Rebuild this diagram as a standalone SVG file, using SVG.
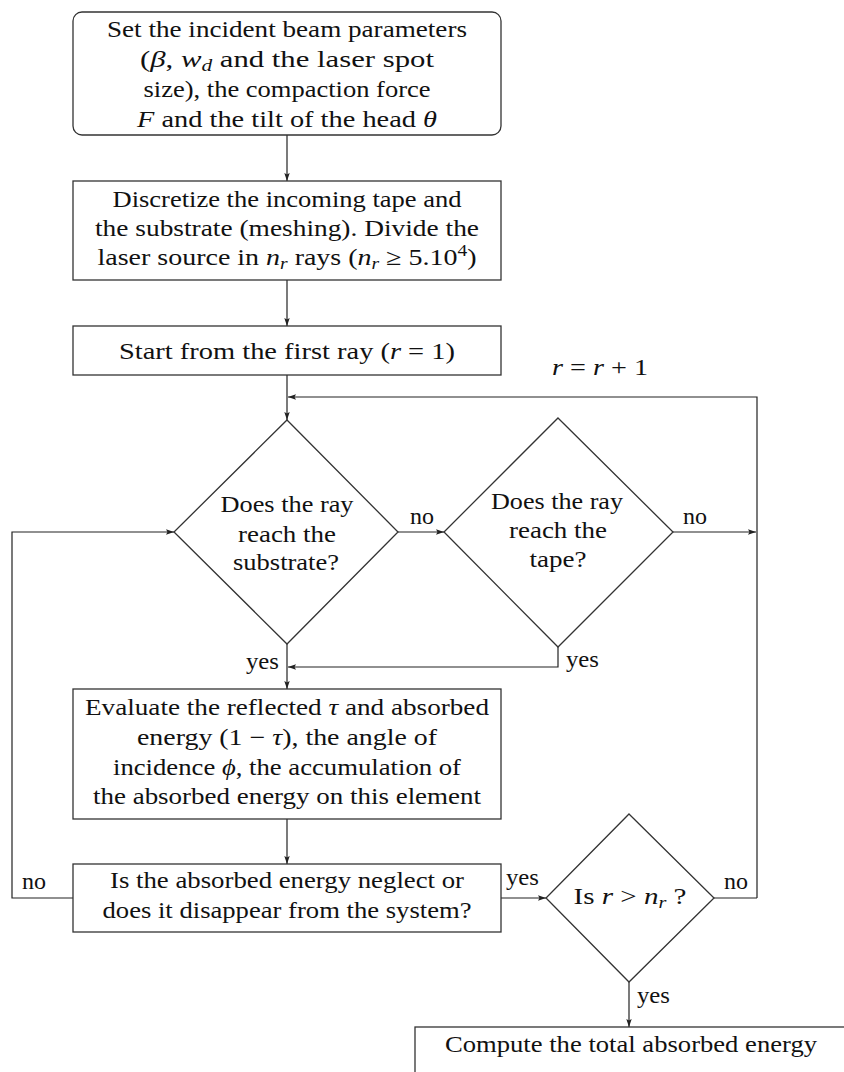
<svg xmlns="http://www.w3.org/2000/svg" width="844" height="1072" viewBox="0 0 844 1072">
<style>
text{font-family:"Liberation Serif","Times New Roman",serif;font-size:23px;fill:#111;text-anchor:middle}
.l{text-anchor:start}
.i{font-style:italic}
.s{font-size:16px}
.box{fill:#fff;stroke:#333;stroke-width:1.3}
.ln{fill:none;stroke:#222;stroke-width:1.2}
</style>
<defs>
<marker id="a" viewBox="0 0 8 6" refX="8" refY="3" markerWidth="8" markerHeight="6" markerUnits="userSpaceOnUse" orient="auto">
<path d="M0,0.3 L8,3 L0,5.7 L1.5,3 Z" fill="#222"/>
</marker>
</defs>
<rect width="844" height="1072" fill="#fff"/>
<g id="connectors">
<path class="ln" d="M287,135 V181" marker-end="url(#a)"/>
<path class="ln" d="M287,280 V326" marker-end="url(#a)"/>
<path class="ln" d="M287,375 V420" marker-end="url(#a)"/>
<path class="ln" d="M757,898 V397 H288" marker-end="url(#a)"/>
<path class="ln" d="M398,532 H444" marker-end="url(#a)"/>
<path class="ln" d="M673,532 H756" marker-end="url(#a)"/>
<path class="ln" d="M287,644 V689" marker-end="url(#a)"/>
<path class="ln" d="M558,647 V667 H288" marker-end="url(#a)"/>
<path class="ln" d="M287,819 V864" marker-end="url(#a)"/>
<path class="ln" d="M73,898 H12 V532 H174" marker-end="url(#a)"/>
<path class="ln" d="M501,898 H546" marker-end="url(#a)"/>
<path class="ln" d="M714,898 H757"/>
<path class="ln" d="M629,982 V1027" marker-end="url(#a)"/>
<text x="552" y="375" class="l" textLength="96" lengthAdjust="spacingAndGlyphs"><tspan class="i">r</tspan> = <tspan class="i">r</tspan> + 1</text>
<text x="410" y="524" class="l" textLength="24" lengthAdjust="spacingAndGlyphs">no</text>
<text x="683" y="524" class="l" textLength="24" lengthAdjust="spacingAndGlyphs">no</text>
<text x="246" y="669" class="l" textLength="33" lengthAdjust="spacingAndGlyphs">yes</text>
<text x="566" y="667" class="l" textLength="33" lengthAdjust="spacingAndGlyphs">yes</text>
<text x="22" y="889" class="l" textLength="24" lengthAdjust="spacingAndGlyphs">no</text>
<text x="506" y="885" class="l" textLength="33" lengthAdjust="spacingAndGlyphs">yes</text>
<text x="724" y="889" class="l" textLength="24" lengthAdjust="spacingAndGlyphs">no</text>
<text x="637" y="1003" class="l" textLength="33" lengthAdjust="spacingAndGlyphs">yes</text>
</g>
<g id="n1">
<rect class="box" x="73" y="12" width="428" height="123" rx="9"/>
<text x="287" y="37" textLength="360" lengthAdjust="spacingAndGlyphs">Set the incident beam parameters</text>
<text x="287" y="67" textLength="294" lengthAdjust="spacingAndGlyphs">(<tspan class="i">β</tspan>, <tspan class="i">w</tspan><tspan class="i s" dy="4">d</tspan><tspan dy="-4"> and the laser spot</tspan></text>
<text x="287" y="97" textLength="287" lengthAdjust="spacingAndGlyphs">size), the compaction force</text>
<text x="287" y="127" textLength="300" lengthAdjust="spacingAndGlyphs"><tspan class="i">F</tspan> and the tilt of the head <tspan class="i">θ</tspan></text>
</g>
<g id="n2">
<rect class="box" x="73" y="181" width="428" height="99"/>
<text x="287" y="207" textLength="349" lengthAdjust="spacingAndGlyphs">Discretize the incoming tape and</text>
<text x="287" y="236" textLength="384" lengthAdjust="spacingAndGlyphs">the substrate (meshing).  Divide the</text>
<text x="287" y="265" textLength="379" lengthAdjust="spacingAndGlyphs">laser source in <tspan class="i">n</tspan><tspan class="i s" dy="4">r</tspan><tspan dy="-4"> rays (</tspan><tspan class="i">n</tspan><tspan class="i s" dy="4">r</tspan><tspan dy="-4"> ≥ 5.10</tspan><tspan class="s" dy="-9">4</tspan><tspan dy="9">)</tspan></text>
</g>
<g id="n3">
<rect class="box" x="73" y="326" width="428" height="49"/>
<text x="287" y="359" textLength="336" lengthAdjust="spacingAndGlyphs">Start from the first ray (<tspan class="i">r</tspan> = 1)</text>
</g>
<g id="d1">
<polygon class="box" points="287,420 398,532 287,644 174,532"/>
<text x="287" y="512" textLength="133" lengthAdjust="spacingAndGlyphs">Does the ray</text>
<text x="287" y="542" textLength="98" lengthAdjust="spacingAndGlyphs">reach the</text>
<text x="286" y="570" textLength="106" lengthAdjust="spacingAndGlyphs">substrate?</text>
</g>
<g id="d2">
<polygon class="box" points="558,418 673,532 558,647 444,532"/>
<text x="557" y="509" textLength="132" lengthAdjust="spacingAndGlyphs">Does the ray</text>
<text x="558" y="538" textLength="98" lengthAdjust="spacingAndGlyphs">reach the</text>
<text x="558" y="567" textLength="57" lengthAdjust="spacingAndGlyphs">tape?</text>
</g>
<g id="n4">
<rect class="box" x="73" y="689" width="428" height="130"/>
<text x="287" y="715" textLength="404" lengthAdjust="spacingAndGlyphs">Evaluate the reflected <tspan class="i">τ</tspan> and absorbed</text>
<text x="287" y="745" textLength="300" lengthAdjust="spacingAndGlyphs">energy (1 − <tspan class="i">τ</tspan>), the angle of</text>
<text x="287" y="775" textLength="348" lengthAdjust="spacingAndGlyphs">incidence <tspan class="i">ϕ</tspan>, the accumulation of</text>
<text x="287" y="804" textLength="388" lengthAdjust="spacingAndGlyphs">the absorbed energy on this element</text>
</g>
<g id="n5">
<rect class="box" x="73" y="864" width="428" height="68"/>
<text x="287" y="888" textLength="354" lengthAdjust="spacingAndGlyphs">Is the absorbed energy neglect or</text>
<text x="287" y="918" textLength="369" lengthAdjust="spacingAndGlyphs">does it disappear from the system?</text>
</g>
<g id="d3">
<polygon class="box" points="629,814 714,898 629,982 546,898"/>
<text x="630" y="904" textLength="113" lengthAdjust="spacingAndGlyphs">Is <tspan class="i">r</tspan> &gt; <tspan class="i">n</tspan><tspan class="i s" dy="4">r</tspan><tspan dy="-4"> ?</tspan></text>
</g>
<g id="n6">
<rect class="box" x="415" y="1027" width="440" height="60"/>
<text x="631" y="1052" textLength="372" lengthAdjust="spacingAndGlyphs">Compute the total absorbed energy</text>
</g>
</svg>
